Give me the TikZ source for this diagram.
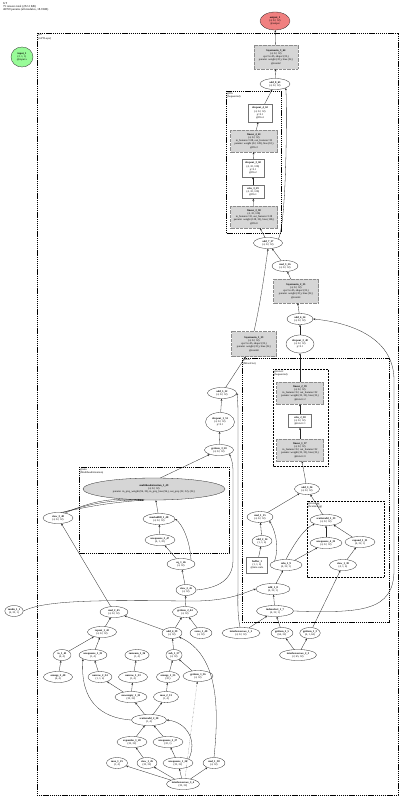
\documentclass[tikz,border=0pt]{standalone}
\usepackage{fontspec}
\setmainfont{Liberation Serif}
\usepackage{xcolor}
\usepackage{tikz}
\usetikzlibrary{arrows.meta, positioning, shapes.geometric}

\definecolor{outred}{RGB}{240,128,128}
\definecolor{ingreen}{RGB}{152,251,152}
\definecolor{parfill}{RGB}{214,214,214}

\begin{document}
\begin{tikzpicture}[
    x=1pt, y=-1pt,
    font=\fontsize{2.7}{3.2}\selectfont,
    %% op styles
    op/.style={
        ellipse, draw=black!85, line width=0.3pt,
        align=center, inner sep=0.3pt,
        minimum width=#1, minimum height=11pt
    },
    op/.default=26pt,
    opin/.style={op=#1, fill=ingreen},
    opin/.default=22pt,
    opout/.style={op=#1, fill=outred},
    opout/.default=30pt,
    opmod/.style={op=#1, fill=parfill},
    %% module boxes
    box/.style={
        draw=black!55, line width=0.25pt,
        align=center, inner sep=0.8pt, fill=white
    },
    boxp/.style={box, fill=parfill, draw=black!45, dash pattern=on 0.8pt off 0.5pt},
    %% cluster styles
    clus/.style={draw, line width=0.9pt, dash pattern=on 1.2pt off 0.7pt},
    clusin/.style={draw, line width=0.45pt, dash pattern=on 1pt off 0.5pt},
    clbl/.style={anchor=north west, align=left, inner sep=1pt},
    %% arrow styles
    link/.style={-{Stealth[length=2.2pt, width=1.8pt]}, line width=0.3pt, draw=black!85},
    linkdot/.style={link, densely dotted}
]
    \useasboundingbox (0,0) rectangle (400,799);

    %% --- header -----------------------------------------------
    \node[anchor=north west, align=left, inner sep=0pt, font=\fontsize{3}{3.3}\selectfont] (hdr) at (3,2)
        {GT\\75 tensors total (252.2 KB)\\40769 params (all modules, 18.9 KB)};

    %% --- clusters ---------------------------------------------
    \draw[clus] (37,33) rectangle (398,795);
    \node[clbl] (cl0) at (37,33) {@0\\(GPTLayer)};
    \draw[clus] (226,91) rectangle (281,233);
    \node[clbl] (clffn) at (226,91) {@ffn\\(Sequential)};
    \draw[clus] (79,467) rectangle (229,553);
    \node[clbl] (clattn) at (79,467) {@attn\\(MultiheadAttention)};
    \draw[clus] (242,358) rectangle (389,622);
    \node[clbl] (clmix) at (242,358) {@mix\\(MixerOut)};
    \draw[clusin] (273,369) rectangle (328,466);
    \node[clbl] (clfc) at (273,369) {@mix.fc\\(Sequential)};
    \draw[clusin] (307,501) rectangle (384,577);
    \node[clbl] (clagg) at (307,501) {@mix.agg\\(ScatterAgg)};

    %% --- input / output ---------------------------------------
    \node[opout, minimum height=18pt] (out1) at (275,21) {\textbf{output\_1}\\(4, 32, 32)\\@output};
    \node[opin, minimum height=20pt] (in1) at (22,57) {\textbf{input\_1}\\(2, 1, 1)\\@input.x};

    %% --- ffn part ---------------------------------------------
    \node[boxp, minimum width=44pt, minimum height=24pt] (ln64) at (276,57) {%
        \textbf{layernorm\_3\_64}\\(4, 32, 32)\\eps=1e-05, shape=(32,)\\
        params: weight (32,), bias (32,)\\@norm2};
    \node[op=30pt] (add63) at (275,84) {\textbf{add\_8\_63}\\(4, 32, 32)};
    \node[box, minimum width=24pt, minimum height=18pt] (do62) at (260,113) {%
        \textbf{dropout\_4\_62}\\(4, 32, 32)\\p=0.1\\@ffn.4};
    \node[boxp, minimum width=47pt, minimum height=22pt] (lin61) at (254,141) {%
        \textbf{linear\_4\_61}\\(4, 32, 32)\\in\_features=128, out\_features=32\\
        params: weight (32, 128), bias (32,)\\@ffn.3};
    \node[box, minimum width=22pt, minimum height=18pt] (do60) at (253,168) {%
        \textbf{dropout\_3\_60}\\(4, 32, 128)\\p=0.1\\@ffn.2};
    \node[box, minimum width=22pt, minimum height=13pt] (relu59) at (253,192) {%
        \textbf{relu\_3\_59}\\(4, 32, 128)\\@ffn.1};
    \node[boxp, minimum width=47pt, minimum height=22pt] (lin58) at (254,217) {%
        \textbf{linear\_3\_58}\\(4, 32, 128)\\in\_features=32, out\_features=128\\
        params: weight (128, 32), bias (128,)\\@ffn.0};
    \node[op=29pt] (add57) at (268,243) {\textbf{add\_7\_57}\\(4, 32, 32)};
    \node[op] (mul56) at (285,266) {\textbf{mul\_3\_56}\\(4, 32, 32)};
    \node[boxp, minimum width=45pt, minimum height=24pt] (ln55) at (296,291) {%
        \textbf{layernorm\_2\_55}\\(4, 32, 32)\\eps=1e-05, shape=(32,)\\
        params: weight (32,), bias (32,)\\@norm1};
    \node[op] (add54) at (300,319) {\textbf{add\_6\_54}\\(4, 32, 32)};
    \node[op=28pt, minimum height=18pt] (do40) at (300,344) {\textbf{dropout\_2\_40}\\(4, 32, 32)\\p=0.1};
    \node[boxp, minimum width=45pt, minimum height=25pt] (ln53) at (254,344) {%
        \textbf{layernorm\_1\_53}\\(4, 32, 32)\\eps=1e-05, shape=(32,)\\
        params: weight (32,), bias (32,)\\@norm0};

    %% --- attention part ---------------------------------------
    \node[op=29pt] (add52) at (222,393) {\textbf{add\_5\_52}\\(4, 32, 32)};
    \node[op=29pt, minimum height=19pt] (do51) at (220,422) {\textbf{dropout\_1\_51}\\(4, 32, 32)\\p=0.1};
    \node[op=29pt] (gi50) at (219,450) {\textbf{getitem\_3\_50}\\(4, 32, 32)};
    \node[opmod=142pt, minimum height=22pt] (mha) at (154,489) {%
        \textbf{multiheadattention\_1\_49}\\(4, 32, 32)\\
        params: in\_proj\_weight (96, 32), in\_proj\_bias (96,), out\_proj (32, 32), (32,)};
    \node[op=32pt] (mf48) at (159,519) {\textbf{maskedfill\_1\_48}\\(4, 32, 32)};
    \node[op=30pt] (us47) at (160,540) {\textbf{unsqueeze\_3\_47}\\(4, 1, 32)};
    \node[op=28pt] (eq46) at (181,564) {\textbf{eq\_1\_46}\\(4, 32)};
    \node[op=20pt] (vw45) at (186,590) {\textbf{view\_2\_45}\\(4, 32)};
    \node[op=25pt] (gi44) at (185,612) {\textbf{getitem\_2\_44}\\(4, 32)};
    \node[op=30pt] (vw48) at (58,518) {\textbf{view\_3\_48}\\(4, 32, 32)};
    \node[op=28pt] (mul45) at (114,612) {\textbf{mul\_2\_45}\\(4, 32, 32)};
    \node[op=29pt] (rep42) at (102,632) {\textbf{repeat\_1\_42}\\(4, 32, 32)};
    \node[op=20pt] (add39) at (172,633) {\textbf{add\_4\_39}\\(4, 32)};
    \node[op=22pt] (zr40) at (201,633) {\textbf{zeros\_1\_40}\\(4, 32)};
    \node[op=38pt] (il2) at (241,633) {\textbf{interleaverows\_1\_2}\\(4, 32, 32)};
    \node[op=22pt] (gi5) at (282,633) {\textbf{getitem\_2\_5}\\(64, 32)};
    \node[op=20pt] (gi3) at (310,633) {\textbf{getitem\_1\_3}\\(4, 1, 64)};
    \node[op=37pt] (il3) at (298,655) {\textbf{interleaverows\_2\_3}\\(2, 65, 32)};
    \node[op=18pt] (rn1) at (14,611) {\textbf{randn\_1\_1}\\(4, 32, 1)};

    %% --- index helpers ----------------------------------------
    \node[op=18pt] (to41) at (62,655) {\textbf{to\_1\_41}\\(4, 4)};
    \node[op=28pt] (us35) at (93,655) {\textbf{unsqueeze\_1\_35}\\(1, 4)};
    \node[op=18pt] (cs36) at (137,655) {\textbf{cumsum\_1\_36}\\(1, 4)};
    \node[op=16pt] (sub37) at (174,655) {\textbf{sub\_1\_37}\\(4, 32)};
    \node[op=29pt] (ar40) at (58,677) {\textbf{arange\_2\_40}\\(4, 4)};
    \node[op=24pt] (nr34) at (100,677) {\textbf{narrow\_2\_34}\\(1, 1, 4)};
    \node[op=29pt] (nr33) at (133,677) {\textbf{narrow\_1\_33}\\(1, 4)};
    \node[op=23pt] (ar35) at (168,677) {\textbf{arange\_1\_35}\\(32,)};
    \node[op=30pt] (gi36) at (198,676) {\textbf{getitem\_1\_36}\\(4, 32)};
    \node[op=32pt] (ne32) at (131,697) {\textbf{newempty\_1\_32}\\(32, 32)};
    \node[op=25pt] (mx31) at (166,697) {\textbf{max\_2\_31}\\(1, 4)};
    \node[op=35pt] (sa30) at (149,720) {\textbf{scatteradd\_2\_30}\\(1, 4)};
    \node[op=30pt] (ea28) at (132,742) {\textbf{expandas\_1\_28}\\(32, 32)};
    \node[op=30pt] (us27) at (168,742) {\textbf{unsqueeze\_2\_27}\\(32, 1)};
    \node[op=21pt] (mx25) at (117,763) {\textbf{max\_1\_25}\\(1, 4)};
    \node[op=20pt] (vw26) at (147,763) {\textbf{view\_1\_26}\\(32, 32)};
    \node[op=30pt] (us24) at (178,763) {\textbf{unsqueeze\_1\_24}\\(32, 32)};
    \node[op=22pt] (mul38) at (214,763) {\textbf{mul\_1\_38}\\(4, 32)};
    \node[op=33pt] (il4) at (183,784) {\textbf{interleaverows\_3\_4}\\(32, 32)};

    %% --- mixer part -------------------------------------------
    \node[boxp, minimum width=47pt, minimum height=22pt] (lin39) at (300,393) {%
        \textbf{linear\_2\_39}\\(4, 32, 32)\\in\_features=32, out\_features=32\\
        params: weight (32, 32), bias (32,)\\@mix.fc.2};
    \node[box, minimum width=23pt, minimum height=13pt] (relu38) at (300,421) {%
        \textbf{relu\_2\_38}\\(4, 32, 32)\\@mix.fc.1};
    \node[boxp, minimum width=47pt, minimum height=22pt] (lin37) at (300,450) {%
        \textbf{linear\_1\_37}\\(4, 32, 32)\\in\_features=32, out\_features=32\\
        params: weight (32, 32), bias (32,)\\@mix.fc.0};
    \node[op=25pt] (add36) at (307,489) {\textbf{add\_3\_36}\\(4, 32, 32)};
    \node[op=32pt] (sa33) at (326,520) {\textbf{scatteradd\_1\_33}\\(4, 32, 32)};
    \node[op=32pt] (us32) at (326,543) {\textbf{unsqueeze\_4\_32}\\(4, 32, 32)};
    \node[op=30pt] (ex31) at (360,542) {\textbf{expand\_1\_31}\\(4, 32, 1)};
    \node[op=27pt] (vw30) at (343,565) {\textbf{view\_1\_30}\\(4, 1, 4)};
    \node[op] (mul15) at (260,517) {\textbf{mul\_1\_15}\\(4, 32, 32)};
    \node[op=20pt] (add14) at (262,541) {\textbf{add\_2\_14}\\(1, 1, 4)};
    \node[box, minimum width=21pt, minimum height=16pt] (buf1) at (257,565) {%
        \textbf{buffer\_1}\\(1, 1, 4)\\@mix.scale};
    \node[op=32pt] (relu9) at (286,565) {\textbf{relu\_1\_9}\\(4, 32, 1)};
    \node[op=34pt] (add8) at (273,589) {\textbf{add\_1\_8}\\(4, 32, 1)};
    \node[op=37pt] (is7) at (275,611) {\textbf{indexselect\_1\_7}\\(4, 32, 1)};

    %% --- arrows: ffn and norms --------------------------------
    \draw[link] (add63) -- (ln64);
    \draw[link] (ln64) -- (out1);
    \draw[link] (do62) -- (add63);
    \draw[link] (add57.north east) .. controls (287,222) and (287,100) .. (add63.south east);
    \draw[link] (lin61) -- (do62);
    \draw[link] (do60) -- (lin61);
    \draw[link] (relu59) -- (do60);
    \draw[link] (lin58) -- (relu59);
    \draw[link] (add57) -- (lin58);
    \draw[link] (mul56) -- (add57);
    \draw[link] (ln55) -- (mul56);
    \draw[link] (ln53.north) .. controls (261,300) and (265,270) .. (add57.south);
    \draw[link] (add54) -- (ln55);
    \draw[link] (do40) -- (add54);
    \draw[link] (lin39) -- (do40);
    \draw[link] (is7.east) .. controls (360,613) and (394,612) .. (394,570)
        -- (394,380) .. controls (394,335) and (345,322) .. (add54.east);

    %% --- arrows: attention ------------------------------------
    \draw[link] (add52) -- (ln53);
    \draw[link] (do51) -- (add52);
    \draw[link] (gi50) -- (do51);
    \draw[link] (mha.60) -- (gi50);
    \draw[link] (il2.100) .. controls (237,612) and (238,600) .. (238,580)
        -- (238,415) .. controls (238,400) and (237,394) .. (add52.east);
    \draw[link] (vw45.east) .. controls (218,588) and (233,580) .. (233,560)
        -- (233,472) .. controls (233,462) and (231,458) .. (gi50.south east);
    \draw[link] (mf48) -- (mha);
    \draw[link] (us47) -- (mf48);
    \draw[link] (eq46) -- (us47);
    \draw[link] (eq46.north east) .. controls (190,540) and (182,524) .. (mf48.east);
    \draw[link] (vw45) -- (eq46);
    \draw[link] (gi44) -- (vw45);
    \draw[link] (add39) -- (gi44);
    \draw[link] (zr40) -- (gi44);
    \draw[link] (vw48.35) to[bend left=14] (mha.218);
    \draw[link] (vw48.48) to[bend left=9] (mha.223);
    \draw[link] (vw48.60) to[bend left=4] (mha.228);
    \draw[link] (mul45) -- (vw48);
    \draw[link] (rep42) -- (mul45);
    \draw[link] (add39) -- (mul45);

    %% --- arrows: index helpers --------------------------------
    \draw[link] (to41) -- (rep42);
    \draw[link] (us35) -- (rep42);
    \draw[link] (ar40) -- (to41);
    \draw[link] (nr34) -- (us35);
    \draw[link] (sa30.west) .. controls (100,718) and (80,700) .. (us35.south west);
    \draw[link] (nr33) -- (cs36);
    \draw[link] (ne32) -- (nr34);
    \draw[link] (ne32) -- (nr33);
    \draw[link] (sa30) -- (ne32);
    \draw[link] (sa30) -- (mx31);
    \draw[link] (mx31) -- (ar35);
    \draw[link] (ar35) -- (sub37);
    \draw[link] (gi36) -- (sub37);
    \draw[link] (sub37) -- (add39);
    \draw[link] (mul38.north) .. controls (219,710) and (219,655) .. (add39.south east);
    \draw[link] (ea28) -- (sa30);
    \draw[link] (us27) -- (sa30);
    \draw[link] (us24.north east) .. controls (198,740) and (186,722) .. (sa30.east);
    \draw[link] (vw26) -- (ea28);
    \draw[link] (us24) -- (us27);
    \draw[link] (il4) -- (mx25);
    \draw[link] (il4) -- (vw26);
    \draw[link] (il4) -- (us24);
    \draw[link] (il4) -- (mul38);
    \draw[linkdot] (il4.70) -- (gi36);

    %% --- arrows: mixer ----------------------------------------
    \draw[link] (relu38) -- (lin39);
    \draw[link] (lin37) -- (relu38);
    \draw[link] (add36) -- (lin37);
    \draw[link] (rn1.east) .. controls (45,600) and (100,600) .. (185,601)
        .. controls (230,602) and (245,592) .. (add8.west);
    \draw[link] (is7) -- (add8);
    \draw[link] (il2) -- (is7);
    \draw[link] (gi5) -- (is7);
    \draw[link] (il3) -- (gi5);
    \draw[link] (il3) -- (gi3);
    \draw[link] (gi3) -- (vw30);
    \draw[link] (vw30) -- (ex31);
    \draw[link] (ex31) -- (sa33);
    \draw[link] (us32) -- (sa33);
    \draw[link] (relu9.north) .. controls (295,542) and (305,528) .. (sa33.south west);
    \draw[link] (relu9) -- (us32);
    \draw[link] (add8) -- (relu9);
    \draw[link] (relu9.north west) .. controls (280,545) and (274,528) .. (mul15.south east);
    \draw[link] (add14) -- (mul15);
    \draw[link] (buf1) -- (add14);
    \draw[link] (mul15) -- (add36);
    \draw[link] (sa33) -- (add36);

\end{tikzpicture}
\end{document}
